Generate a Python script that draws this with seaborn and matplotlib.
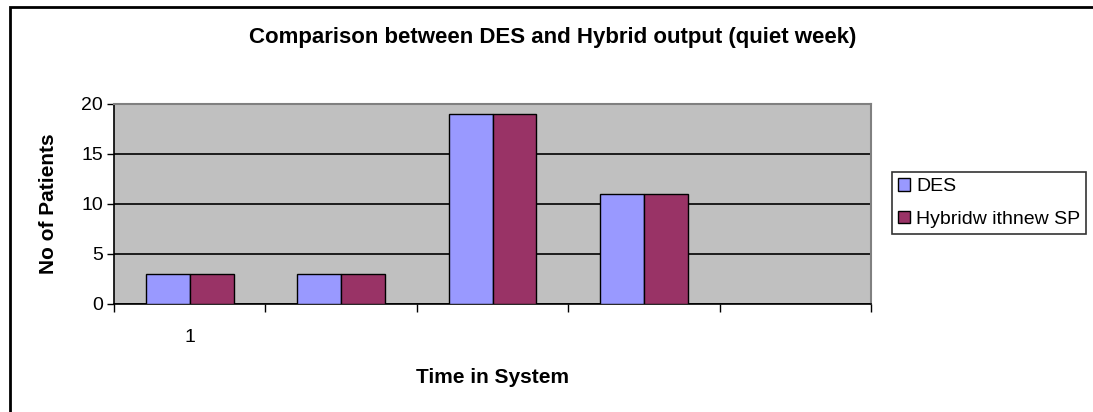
import pandas as pd
import numpy as np
import matplotlib
matplotlib.use("Agg")
import matplotlib.pyplot as plt
import seaborn as sns
from matplotlib.patches import Rectangle

# chart data
categories = ["1", "2", "3", "4", "5"]
tick_labels = ["1", "", "", "", ""]
des = [3, 3, 19, 11, np.nan]
hybrid = [3, 3, 19, 11, np.nan]
series_names = ["DES", "Hybridw ithnew SP"]

data = pd.DataFrame({
    "Category": categories * 2,
    "Series": [series_names[0]] * 5 + [series_names[1]] * 5,
    "Patients": des + hybrid,
})

sns.set_style("white")
plt.rcParams["font.family"] = ["Liberation Sans", "DejaVu Sans"]
plt.rcParams["text.color"] = "black"
plt.rcParams["axes.labelcolor"] = "black"
plt.rcParams["xtick.color"] = "black"
plt.rcParams["ytick.color"] = "black"

fig = plt.figure(figsize=(10.93, 4.12), dpi=100)
ax = fig.add_axes([114 / 1093, 108 / 412, 757 / 1093, 200 / 412])
ax.set_facecolor("#C0C0C0")

sns.barplot(data=data, x="Category", y="Patients", hue="Series",
            order=categories, hue_order=series_names,
            palette=["#9999FF", "#993366"], saturation=1, width=0.58, gap=0,
            edgecolor="black", linewidth=1, ax=ax, zorder=3)

ax.set_xlim(-0.5, 4.5)
ax.set_ylim(0, 20)
ax.set_yticks([0, 5, 10, 15, 20])
ax.yaxis.grid(True, color="black", linewidth=1.2, zorder=1)
ax.set_axisbelow(True)

ax.set_xticks(range(5))
ax.set_xticklabels(tick_labels, fontsize=14)
ax.set_xticks(np.arange(-0.5, 5, 1), minor=True)
ax.tick_params(axis="x", which="major", length=0, pad=18)
ax.tick_params(axis="x", which="minor", length=6, width=1, color="black", direction="out")
ax.tick_params(axis="y", length=5, width=1, color="black", direction="out", labelsize=14, pad=3)
ax.xaxis.set_ticks_position("bottom")
ax.yaxis.set_ticks_position("left")

for side in ["left", "bottom"]:
    ax.spines[side].set_color("black")
    ax.spines[side].set_linewidth(1.2)
for side in ["top", "right"]:
    ax.spines[side].set_color("#808080")
    ax.spines[side].set_linewidth(1.5)

ax.set_xlabel("Time in System", fontsize=15, fontweight="bold", labelpad=16)
ax.set_ylabel("No of Patients", fontsize=15, fontweight="bold", labelpad=17)

fig.text(553 / 1093, 1 - 37 / 412, "Comparison between DES and Hybrid output (quiet week)",
         ha="center", va="center", fontsize=16, fontweight="bold")

leg = ax.legend(loc="center left", bbox_to_anchor=(892 / 1093, 1 - 203 / 412),
                bbox_transform=fig.transFigure, frameon=True, fancybox=False,
                fontsize=14, handlelength=0.6, handleheight=0.6, handletextpad=0.35,
                borderpad=0.3, labelspacing=0.8, borderaxespad=0)
leg.get_frame().set_edgecolor("black")
leg.get_frame().set_linewidth(1.2)

# outer chart frame
fig.patches.append(Rectangle((10 / 1093, -0.1), 1.2, 1 - 7 / 412 + 0.1,
                             transform=fig.transFigure, fill=False,
                             edgecolor="black", linewidth=2))

fig.savefig("out.png", dpi=100)
